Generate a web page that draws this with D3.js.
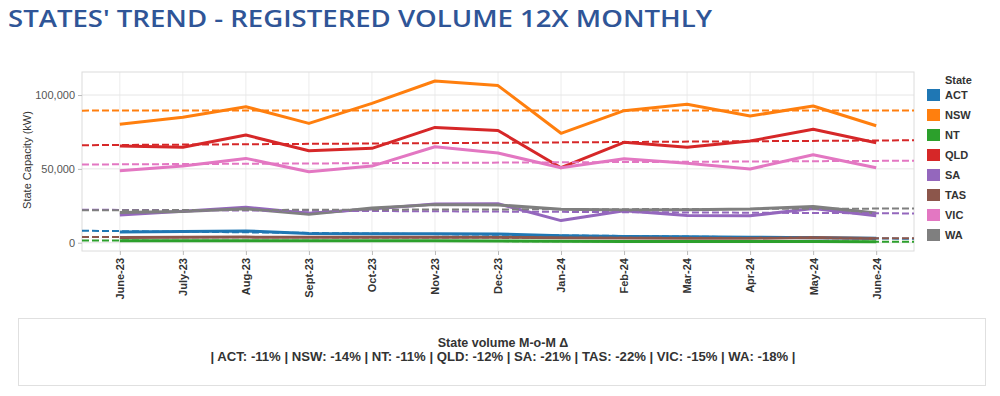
<!DOCTYPE html>
<head>
  <meta charset="utf-8">
  <script src="https://d3js.org/d3.v7.min.js"></script>
  <style>
  body { margin: 0; background: #fff; }
  #chart text { font-family: "Liberation Sans", Arial, sans-serif; }
  </style>
</head>

<body>
  <svg id="chart"></svg>
  <script>

    // months on the x axis
    var months = ["June-23", "July-23", "Aug-23", "Sept-23", "Oct-23", "Nov-23", "Dec-23",
                  "Jan-24", "Feb-24", "Mar-24", "Apr-24", "May-24", "June-24"];

    var states = ["ACT", "NSW", "NT", "QLD", "SA", "TAS", "VIC", "WA"];

    // registered volume per state (kW)
    var act = [7300, 7600, 8000, 6200, 6000, 6000, 5900, 4700, 4300, 4000, 3700, 3400, 3030];
    var nsw = [80200, 84900, 92100, 80800, 94400, 109500, 106400, 74100, 89400, 93700, 85800, 92600, 79200];
    var nt  = [1300, 1300, 1400, 1300, 1300, 1300, 1200, 1000, 900, 900, 800, 800, 712];
    var qld = [65500, 64600, 72900, 62300, 63900, 78100, 76000, 50800, 68000, 64600, 68900, 76800, 67700];
    var sa  = [18750, 21300, 24000, 19900, 22800, 26300, 26400, 15000, 21600, 18500, 18300, 23100, 18250];
    var tas = [3600, 3700, 3800, 3700, 3700, 3700, 3700, 3300, 3200, 3100, 3000, 3600, 2800];
    var vic = [48700, 51900, 57100, 48100, 51900, 65000, 60700, 50800, 56900, 53800, 49900, 59600, 50800];
    var wa  = [20500, 21200, 23000, 19200, 23500, 25800, 25600, 22600, 22100, 22300, 22800, 24500, 20100];

    var yTicks = [0, 50000, 100000];

    // month-on-month change shown in the box under the chart
    var momDelta = ["-11%", "-14%", "-11%", "-12%", "-21%", "-22%", "-15%", "-18%"];

    var values = [act, nsw, nt, qld, sa, tas, vic, wa];
    var series = states.map(function(s, i) { return { state: s, values: values[i] }; });

    var width = 1000, height = 396;
    var plot = { left: 82, right: 914, top: 72, bottom: 251 };

    var color = d3.scaleOrdinal(d3.schemeCategory10).domain(states);

    var x = d3.scaleLinear()
        .domain([-0.6, months.length - 0.4])
        .range([plot.left, plot.right]);

    var y = d3.scaleLinear()
        .domain([-5600, 115600])
        .range([plot.bottom, plot.top]);

    var chart = d3.select('#chart')
        .attr('width', width)
        .attr('height', height);

    // title
    chart.append('text')
        .attr('x', 8)
        .attr('y', 27)
        .attr('textLength', 704)
        .attr('lengthAdjust', 'spacingAndGlyphs')
        .style('font-family', '"Open Sans", sans-serif')
        .style('font-weight', 600)
        .style('font-size', '24px')
        .style('fill', '#2f5597')
        .text("STATES' TREND - REGISTERED VOLUME 12X MONTHLY");

    // gridlines
    chart.append('g').selectAll('line')
        .data(d3.range(months.length))
      .enter().append('line')
        .attr('x1', function(d) { return x(d); })
        .attr('x2', function(d) { return x(d); })
        .attr('y1', plot.top)
        .attr('y2', plot.bottom)
        .style('stroke', '#ececec');

    chart.append('g').selectAll('line')
        .data(yTicks)
      .enter().append('line')
        .attr('x1', plot.left)
        .attr('x2', plot.right)
        .attr('y1', function(d) { return y(d); })
        .attr('y2', function(d) { return y(d); })
        .style('stroke', '#e6e6e6');

    chart.append('rect')
        .attr('x', plot.left)
        .attr('y', plot.top)
        .attr('width', plot.right - plot.left)
        .attr('height', plot.bottom - plot.top)
        .style('fill', 'none')
        .style('stroke', '#dcdcdc');

    // y axis
    var yAxis = chart.append('g')
        .attr('transform', 'translate(' + plot.left + ',0)')
        .call(d3.axisLeft(y).tickValues(yTicks).tickFormat(d3.format(',')).tickSize(4).tickPadding(3));
    yAxis.select('.domain').remove();
    yAxis.selectAll('line').style('stroke', '#bbb');
    yAxis.selectAll('text').style('font-size', '11px').style('fill', '#555');

    chart.append('text')
        .attr('transform', 'translate(31,160) rotate(-90)')
        .attr('text-anchor', 'middle')
        .style('font-size', '11px')
        .style('fill', '#333')
        .text('State Capacity (kW)');

    // x axis
    var xAxis = chart.append('g')
        .attr('transform', 'translate(0,' + plot.bottom + ')')
        .call(d3.axisBottom(x).tickValues(d3.range(months.length))
          .tickFormat(function(i) { return months[i]; }).tickSize(4));
    xAxis.select('.domain').remove();
    xAxis.selectAll('line').style('stroke', '#bbb');
    xAxis.selectAll('text')
        .attr('transform', 'rotate(-90)')
        .attr('x', -7)
        .attr('y', 0)
        .attr('dy', '.35em')
        .attr('text-anchor', 'end')
        .style('font-size', '11px')
        .style('font-weight', 'bold')
        .style('fill', '#333');

    // linear trend, extended over the whole plot
    function trend(vals) {
      var xs = d3.range(vals.length);
      var mx = d3.mean(xs), my = d3.mean(vals);
      var sxy = d3.sum(xs, function(xi, i) { return (xi - mx) * (vals[i] - my); });
      var sxx = d3.sum(xs, function(xi) { return (xi - mx) * (xi - mx); });
      var slope = sxy / sxx;
      return x.domain().map(function(d) { return [d, my + slope * (d - mx)]; });
    }

    var trendLine = d3.line()
        .x(function(d) { return x(d[0]); })
        .y(function(d) { return y(d[1]); });

    var line = d3.line()
        .x(function(d, i) { return x(i); })
        .y(function(d) { return y(d); });

    chart.append('g').selectAll('path')
        .data(series)
      .enter().append('path')
        .attr('d', function(d) { return line(d.values); })
        .style('fill', 'none')
        .style('stroke', function(d) { return color(d.state); })
        .style('stroke-width', 3)
        .style('stroke-linejoin', 'round');

    chart.append('g').selectAll('path')
        .data(series)
      .enter().append('path')
        .attr('d', function(d) { return trendLine(trend(d.values)); })
        .style('fill', 'none')
        .style('stroke', function(d) { return color(d.state); })
        .style('stroke-width', 2)
        .style('stroke-dasharray', '7,3');

    // legend
    var legend = chart.append('g').attr('transform', 'translate(927,0)');
    legend.append('text')
        .attr('x', 18)
        .attr('y', 84)
        .style('font-size', '11px')
        .style('font-weight', 'bold')
        .style('fill', '#333')
        .text('State');

    var item = legend.selectAll('.item')
        .data(states)
      .enter().append('g')
        .attr('class', 'item')
        .attr('transform', function(d, i) { return 'translate(0,' + (95 + i * 20) + ')'; });

    item.append('rect')
        .attr('y', -6)
        .attr('width', 13)
        .attr('height', 12)
        .style('fill', function(d) { return color(d); });

    item.append('text')
        .attr('x', 18)
        .attr('dy', '.35em')
        .style('font-size', '11px')
        .style('font-weight', 'bold')
        .style('fill', '#333')
        .text(function(d) { return d; });

    // month-on-month box
    chart.append('rect')
        .attr('x', 18.5)
        .attr('y', 318.5)
        .attr('width', 967)
        .attr('height', 67)
        .style('fill', '#fff')
        .style('stroke', '#e0e0e0');

    chart.append('text')
        .attr('x', 503)
        .attr('y', 347)
        .attr('text-anchor', 'middle')
        .style('font-size', '12.5px')
        .style('font-weight', 'bold')
        .style('fill', '#333')
        .text('State volume M-o-M \u0394');

    chart.append('text')
        .attr('x', 503)
        .attr('y', 361)
        .attr('text-anchor', 'middle')
        .attr('textLength', 585)
        .attr('lengthAdjust', 'spacingAndGlyphs')
        .style('font-size', '12.5px')
        .style('font-weight', 'bold')
        .style('fill', '#333')
        .text('| ' + states.map(function(s, i) { return s + ': ' + momDelta[i]; }).join(' | ') + ' |');

  </script>
</body>
